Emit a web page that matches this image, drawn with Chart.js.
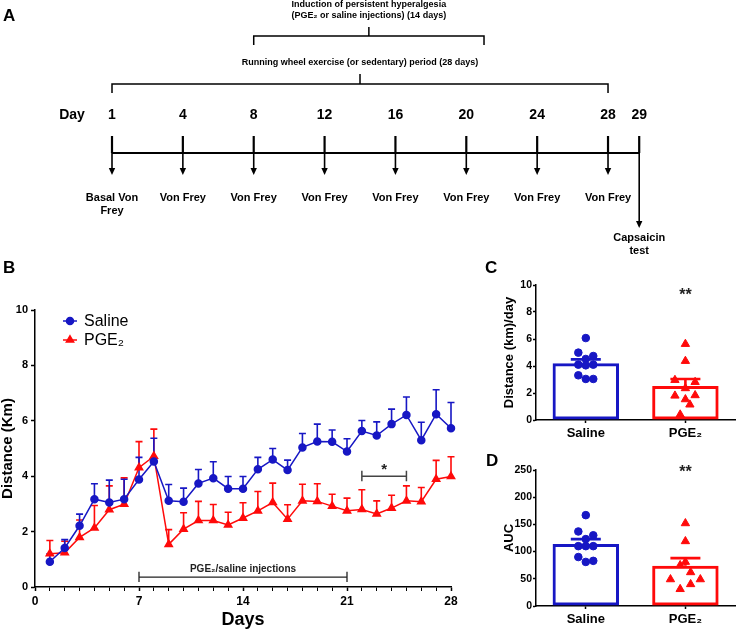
<!DOCTYPE html>
<html>
<head>
<meta charset="utf-8">
<script src="https://cdn.jsdelivr.net/npm/chart.js@4.4.1/dist/chart.umd.min.js"></script>
<style>
  body { margin: 0; width: 741px; height: 631px; position: relative; overflow: hidden; background: #fff;
         font-family: 'Liberation Sans', Arial, Helvetica, sans-serif; }
  .box { position: absolute; }
  .panel { position: absolute; font-weight: bold; font-size: 17px; line-height: 17px; color: #000; }
</style>
</head>
<body>
<div class="box" style="left:0;top:0;width:741px;height:265px"><canvas id="chartA"></canvas></div>
<div class="box" style="left:0;top:290px;width:480px;height:341px"><canvas id="chartB"></canvas></div>
<div class="box" style="left:496px;top:270px;width:245px;height:175px"><canvas id="chartC"></canvas></div>
<div class="box" style="left:496px;top:455px;width:245px;height:176px"><canvas id="chartD"></canvas></div>
<div class="panel" style="left:3px;top:7px">A</div>
<div class="panel" style="left:3px;top:259px">B</div>
<div class="panel" style="left:485px;top:259px">C</div>
<div class="panel" style="left:486px;top:452px">D</div>
<script>
// ---- panel A: protocol timeline
const timelineDays = [1, 4, 8, 12, 16, 20, 24, 28];
const timelineTests = [['Basal Von', 'Frey'], ['Von Frey'], ['Von Frey'], ['Von Frey'], ['Von Frey'], ['Von Frey'], ['Von Frey'], ['Von Frey']];
const testDay = 29;
const testLabel = ['Capsaicin', 'test'];
const exerciseDays = [1, 28];
const exerciseLabel = ['Running wheel exercise (or sedentary) period (28 days)'];
const injectionDaysA = [8, 21];
const injectionLabel = ['Induction of persistent hyperalgesia', '(PGE\u2082 or saline injections) (14 days)'];

// ---- panel B: daily running distance (mean, SEM)
const days = [1, 2, 3, 4, 5, 6, 7, 8, 9, 10, 11, 12, 13, 14, 15, 16, 17, 18, 19, 20, 21, 22, 23, 24, 25, 26, 27, 28];
const salineMean = [0.91, 1.41, 2.21, 3.17, 3.05, 3.17, 3.88, 4.53, 3.11, 3.08, 3.74, 3.93, 3.55, 3.55, 4.25, 4.60, 4.22, 5.04, 5.25, 5.24, 4.89, 5.63, 5.47, 5.88, 6.21, 5.30, 6.24, 5.73];
const salineSem = [0.29, 0.30, 0.42, 0.56, 0.81, 0.72, 0.80, 0.84, 0.59, 0.49, 0.50, 0.59, 0.44, 0.44, 0.43, 0.40, 0.36, 0.50, 0.63, 0.43, 0.46, 0.38, 0.49, 0.54, 0.65, 0.65, 0.88, 0.93];
const pgeMean = [1.20, 1.24, 1.79, 2.13, 2.79, 2.99, 4.31, 4.72, 1.54, 2.09, 2.40, 2.40, 2.24, 2.49, 2.75, 3.05, 2.45, 3.11, 3.09, 2.92, 2.75, 2.80, 2.64, 2.85, 3.11, 3.08, 3.89, 3.99];
const pgeSem = [0.48, 0.41, 0.63, 0.81, 0.86, 0.95, 0.94, 0.98, 0.53, 0.59, 0.69, 0.58, 0.46, 0.55, 0.70, 0.70, 0.52, 0.60, 0.64, 0.43, 0.46, 0.71, 0.47, 0.46, 0.54, 0.51, 0.68, 0.71];
const injectionDaysB = [7, 21];
const sigDaysB = [22, 25];

// ---- panels C and D: per-animal values, bar = mean, whisker = SEM
const groupLabels = ['Saline', 'PGE\u2082'];
const cMeans = [4.20, 2.52];
const cSems = [0.29, 0.52];
const cSaline = [6.07, 4.99, 4.74, 4.52, 4.10, 4.05, 4.10, 3.31, 3.04, 3.04];
const cSalineCols = [0, -1, 1, 0, -1, 0, 1, -1, 0, 1];
const cPge = [5.63, 4.37, 2.96, 2.81, 2.35, 1.80, 1.83, 1.53, 1.14, 0.40];
const cPgeCols = [0, 0, -1.4, 1.3, 0, -1.4, 1.3, 0, 0.6, -0.7];
const dMeans = [114, 74];
const dSems = [9, 14];
const dSaline = [167, 137, 130, 123, 110, 110, 110, 90, 81, 83];
const dSalineCols = [0, -1, 1, 0, -1, 0, 1, -1, 0, 1];
const dPge = [152, 119, 81, 75, 62, 49, 49, 40, 31];
const dPgeCols = [0, 0, 0, -0.7, 0.7, -2, 2, 0.7, -0.7];

const BLUE = '#1717c4';
const RED = '#ff0a0a';
const FONT = "'Liberation Sans', Arial, Helvetica, sans-serif";

Chart.defaults.font.family = FONT;
Chart.defaults.color = '#000';
Chart.defaults.animation = false;
Chart.defaults.events = [];
Chart.defaults.plugins.legend.display = false;
Chart.defaults.plugins.tooltip.enabled = false;

// ------------------------------------------------------------ A
// measurement days sit on evenly spaced slots, the test day half a slot later
function slotOf(day) {
  if (day >= testDay) return timelineDays.length - 1 + 0.44;
  for (let i = 0; i < timelineDays.length - 1; i++) {
    const a = timelineDays[i], b = timelineDays[i + 1];
    if (day <= b) return i + (day - a) / (b - a);
  }
  return timelineDays.length - 1;
}

function arrowDown(ctx, x, y1, y2) {
  ctx.beginPath();
  ctx.moveTo(x, y1);
  ctx.lineTo(x, y2 - 6);
  ctx.stroke();
  ctx.beginPath();
  ctx.moveTo(x - 3.2, y2 - 7);
  ctx.lineTo(x + 3.2, y2 - 7);
  ctx.lineTo(x, y2);
  ctx.closePath();
  ctx.fill();
}

function bracket(ctx, x1, x2, y, drop, rise) {
  const xm = (x1 + x2) / 2;
  ctx.beginPath();
  ctx.moveTo(x1, y + drop); ctx.lineTo(x1, y); ctx.lineTo(x2, y); ctx.lineTo(x2, y + drop);
  ctx.moveTo(xm, y); ctx.lineTo(xm, y - rise);
  ctx.stroke();
  return xm;
}

const timelinePlugin = {
  id: 'timeline',
  afterDraw(chart) {
    const { ctx } = chart;
    const X = d => chart.scales.x.getPixelForValue(slotOf(d));
    const Y = v => chart.scales.y.getPixelForValue(v);
    ctx.save();
    ctx.strokeStyle = '#000';
    ctx.fillStyle = '#000';
    ctx.lineCap = 'butt';
    ctx.textAlign = 'center';
    ctx.textBaseline = 'middle';

    // injection bracket and caption
    ctx.lineWidth = 1.5;
    let xm = bracket(ctx, X(injectionDaysA[0]), X(injectionDaysA[1]), Y(36), 9, 9);
    ctx.font = 'bold 9px ' + FONT;
    injectionLabel.forEach((t, i) => ctx.fillText(t, xm, Y(5 + i * 11)));

    // exercise bracket and caption
    xm = bracket(ctx, X(exerciseDays[0]), X(exerciseDays[1]), Y(84), 9, 10);
    exerciseLabel.forEach((t, i) => ctx.fillText(t, xm, Y(63 + i * 11)));

    // day numbers
    ctx.font = 'bold 14px ' + FONT;
    ctx.fillText('Day', 72, Y(115));
    timelineDays.concat([testDay]).forEach(d => ctx.fillText(String(d), X(d), Y(115)));

    // main line, ticks and arrows
    ctx.lineWidth = 2.2;
    ctx.beginPath();
    ctx.moveTo(X(timelineDays[0]), Y(153));
    ctx.lineTo(X(testDay), Y(153));
    ctx.stroke();
    timelineDays.concat([testDay]).forEach(d => {
      ctx.beginPath();
      ctx.moveTo(X(d), Y(136));
      ctx.lineTo(X(d), Y(153));
      ctx.stroke();
    });
    ctx.lineWidth = 1.6;
    timelineDays.forEach(d => arrowDown(ctx, X(d), Y(153), Y(175)));
    arrowDown(ctx, X(testDay), Y(153), Y(228));

    // test captions
    ctx.font = 'bold 11px ' + FONT;
    timelineTests.forEach((lines, i) => {
      lines.forEach((t, k) => ctx.fillText(t, X(timelineDays[i]), Y(198 + k * 13)));
    });
    testLabel.forEach((t, k) => ctx.fillText(t, X(testDay), Y(238 + k * 13)));
    ctx.restore();
  }
};

new Chart(document.getElementById('chartA'), {
  type: 'scatter',
  data: { datasets: [] },
  options: {
    maintainAspectRatio: false,
    layout: { padding: 0 },
    scales: {
      x: { type: 'linear', display: false, min: -112 / 70.86, max: (741 - 112) / 70.86 },
      y: { type: 'linear', display: false, min: 0, max: 265, reverse: true }
    }
  },
  plugins: [timelinePlugin]
});

// ------------------------------------------------------------ B
const semsB = [salineSem, pgeSem];

const errorBarsB = {
  id: 'errorBarsB',
  beforeDatasetsDraw(chart) {
    const { ctx } = chart;
    const xs = chart.scales.x, ys = chart.scales.y;
    ctx.save();
    ctx.lineWidth = 1.6;
    [1, 0].forEach(di => {
      const ds = chart.data.datasets[di];
      ctx.strokeStyle = ds.borderColor;
      ds.data.forEach((p, i) => {
        const x = xs.getPixelForValue(p.x);
        const y0 = ys.getPixelForValue(p.y);
        const y1 = ys.getPixelForValue(p.y + semsB[di][i]);
        ctx.beginPath();
        ctx.moveTo(x, y0); ctx.lineTo(x, y1);
        ctx.moveTo(x - 3.5, y1); ctx.lineTo(x + 3.5, y1);
        ctx.stroke();
      });
    });
    ctx.restore();
  }
};

const annotationsB = {
  id: 'annotationsB',
  afterDraw(chart) {
    const { ctx } = chart;
    const X = v => chart.scales.x.getPixelForValue(v);
    const Y = v => chart.scales.y.getPixelForValue(v);
    ctx.save();
    ctx.textAlign = 'center';
    ctx.textBaseline = 'middle';

    // injection period bar
    ctx.strokeStyle = '#222';
    ctx.fillStyle = '#222';
    ctx.lineWidth = 1.3;
    ctx.beginPath();
    ctx.moveTo(X(injectionDaysB[0]), Y(0.36));
    ctx.lineTo(X(injectionDaysB[1]), Y(0.36));
    [0, 1].forEach(k => {
      ctx.moveTo(X(injectionDaysB[k]), Y(0.18));
      ctx.lineTo(X(injectionDaysB[k]), Y(0.55));
    });
    ctx.stroke();
    ctx.font = 'bold 10px ' + FONT;
    ctx.fillText('PGE\u2082/saline injections', X((injectionDaysB[0] + injectionDaysB[1]) / 2), Y(0.63));

    // significance bar
    ctx.strokeStyle = '#444';
    ctx.lineWidth = 1.5;
    ctx.beginPath();
    ctx.moveTo(X(sigDaysB[0]), Y(4.0));
    ctx.lineTo(X(sigDaysB[1]), Y(4.0));
    [0, 1].forEach(k => {
      ctx.moveTo(X(sigDaysB[k]), Y(3.82));
      ctx.lineTo(X(sigDaysB[k]), Y(4.2));
    });
    ctx.stroke();
    ctx.font = 'bold 15px ' + FONT;
    ctx.fillText('*', X((sigDaysB[0] + sigDaysB[1]) / 2), Y(4.22));

    // legend, drawn GraphPad style with line and marker
    ctx.textAlign = 'left';
    ctx.font = '16px ' + FONT;
    chart.data.datasets.forEach((ds, i) => {
      const y = chart.chartArea.top + 11 + i * 19;
      ctx.strokeStyle = ds.borderColor;
      ctx.fillStyle = ds.backgroundColor;
      ctx.lineWidth = 1.5;
      ctx.beginPath();
      ctx.moveTo(63, y); ctx.lineTo(77, y);
      ctx.stroke();
      Chart.helpers.drawPoint(ctx, { pointStyle: ds.pointStyle, radius: ds.pointRadius, borderWidth: 1 }, 70, y);
      ctx.fillStyle = '#000';
      ctx.fillText(ds.label, 84, y + 1);
    });
    ctx.restore();
  }
};

new Chart(document.getElementById('chartB'), {
  type: 'line',
  data: {
    datasets: [
      {
        label: 'Saline',
        data: days.map((d, i) => ({ x: d, y: salineMean[i] })),
        borderColor: BLUE, backgroundColor: BLUE, clip: false,
        borderWidth: 1.5, pointStyle: 'circle', pointRadius: 3.5, tension: 0
      },
      {
        label: 'PGE\u2082',
        data: days.map((d, i) => ({ x: d, y: pgeMean[i] })),
        borderColor: RED, backgroundColor: RED, clip: false,
        borderWidth: 1.5, pointStyle: 'triangle', pointRadius: 4.2, tension: 0
      }
    ]
  },
  options: {
    maintainAspectRatio: false,
    layout: { padding: { top: 20, right: 29, left: 0, bottom: 0 } },
    scales: {
      x: {
        type: 'linear', min: 0, max: 28,
        afterFit: s => { s.height = 44; },
        ticks: {
          stepSize: 1, autoSkip: false, maxRotation: 0, padding: 3,
          font: { size: 12, weight: 'bold' },
          callback: v => (v % 7 === 0 ? String(v) : '')
        },
        grid: {
          drawOnChartArea: false, tickLength: 4, tickColor: '#000',
          tickWidth: c => (c.tick && c.tick.value % 7 === 0 ? 1.5 : 1)
        },
        border: { color: '#000', width: 1.5 },
        title: { display: true, text: 'Days', font: { size: 18, weight: 'bold' }, padding: 0 }
      },
      y: {
        min: 0, max: 10,
        afterFit: s => { s.width = 35; },
        ticks: { stepSize: 2, padding: 3, font: { size: 11, weight: 'bold' } },
        grid: { drawOnChartArea: false, tickLength: 4, tickColor: '#000', tickWidth: 1.5 },
        border: { color: '#000', width: 1.5 },
        title: { display: true, text: 'Distance (Km)', font: { size: 15, weight: 'bold', lineHeight: 1 }, padding: 0 }
      }
    }
  },
  plugins: [errorBarsB, annotationsB]
});

// ------------------------------------------------------------ C and D
const JITTER = 0.075;   // x offset of one dot column, in category units

function groupChart(canvasId, means, sems, salineVals, salineCols, pgeVals, pgeCols, yMax, yStep, yTitle, starY) {
  const whiskers = {
    id: 'whiskers',
    beforeDatasetsDraw(chart) {
      const { ctx } = chart;
      const xs = chart.scales.x, ys = chart.scales.y;
      ctx.save();
      ctx.lineWidth = 2.6;
      means.forEach((m, i) => {
        const x = xs.getPixelForValue(i);
        ctx.strokeStyle = i === 0 ? BLUE : RED;
        ctx.beginPath();
        ctx.moveTo(x, ys.getPixelForValue(m));
        ctx.lineTo(x, ys.getPixelForValue(m + sems[i]));
        ctx.moveTo(x - 15, ys.getPixelForValue(m + sems[i]));
        ctx.lineTo(x + 15, ys.getPixelForValue(m + sems[i]));
        ctx.stroke();
      });
      ctx.restore();
    },
    afterDraw(chart) {
      const { ctx } = chart;
      ctx.save();
      ctx.fillStyle = '#222';
      ctx.font = 'bold 16px ' + FONT;
      ctx.textAlign = 'center';
      ctx.textBaseline = 'middle';
      ctx.fillText('**', chart.scales.x.getPixelForValue(1), chart.scales.y.getPixelForValue(starY));
      ctx.restore();
    }
  };

  return new Chart(document.getElementById(canvasId), {
    type: 'bar',
    data: {
      datasets: [
        {
          type: 'bar',
          data: means.map((m, i) => ({ x: i, y: m })),
          backgroundColor: 'rgba(255,255,255,0)',
          borderColor: [BLUE, RED], borderWidth: 3, borderSkipped: false,
          categoryPercentage: 1, barPercentage: 0.667, order: 2
        },
        {
          type: 'scatter',
          data: salineVals.map((v, i) => ({ x: salineCols[i] * JITTER, y: v })),
          backgroundColor: BLUE, borderColor: BLUE, borderWidth: 1,
          pointStyle: 'circle', pointRadius: 3.8, order: 1
        },
        {
          type: 'scatter',
          data: pgeVals.map((v, i) => ({ x: 1 + pgeCols[i] * JITTER, y: v })),
          backgroundColor: RED, borderColor: RED, borderWidth: 1,
          pointStyle: 'triangle', pointRadius: 4.8, order: 1
        }
      ]
    },
    options: {
      maintainAspectRatio: false,
      layout: { padding: { top: 15, right: 1, left: 0, bottom: 0 } },
      scales: {
        x: {
          type: 'linear', min: -0.5, max: 1.5, offset: false,
          afterBuildTicks: s => { s.ticks = [{ value: 0 }, { value: 1 }]; },
          afterFit: s => { s.height = 25; },
          ticks: { padding: 3, maxRotation: 0, font: { size: 13, weight: 'bold' }, callback: v => groupLabels[v] },
          grid: { drawOnChartArea: false, offset: false, tickLength: 3, tickColor: '#000', tickWidth: 1.5 },
          border: { color: '#000', width: 1.5 }
        },
        y: {
          min: 0, max: yMax,
          afterFit: s => { s.width = 40; },
          ticks: { stepSize: yStep, padding: 1, font: { size: 10.5, weight: 'bold' } },
          grid: { drawOnChartArea: false, tickLength: 3, tickColor: '#000', tickWidth: 1.5 },
          border: { color: '#000', width: 1.5 },
          title: { display: true, text: yTitle, font: { size: 13, weight: 'bold', lineHeight: 1 }, padding: { top: 7, bottom: 0 } }
        }
      }
    },
    plugins: [whiskers]
  });
}

groupChart('chartC', cMeans, cSems, cSaline, cSalineCols, cPge, cPgeCols, 10, 2, 'Distance (km)/day', 9.2);
groupChart('chartD', dMeans, dSems, dSaline, dSalineCols, dPge, dPgeCols, 250, 50, 'AUC', 246);
</script>
</body>
</html>
